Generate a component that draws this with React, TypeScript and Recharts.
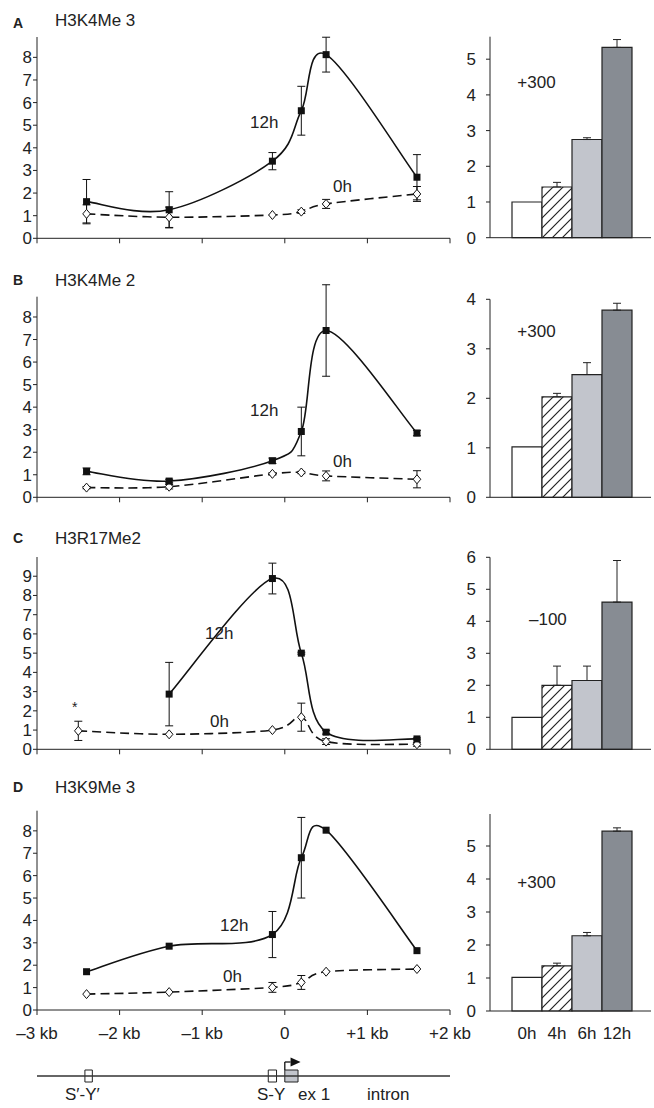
import React from 'react';
import {
  LineChart,
  Line,
  BarChart,
  Bar,
  Cell,
  XAxis,
  YAxis,
  ErrorBar,
  ComposedChart,
  ReferenceLine,
  ReferenceArea,
  ReferenceDot,
} from 'recharts';

const FONT = '"Liberation Sans", Arial, Helvetica, sans-serif';
const INK = '#222';

// ---- line panels: ChIP signal along the promoter (kb from TSS) ----
const kbTicks = [-3, -2, -1, 0, 1, 2];
const kbPos = [-2.4, -1.4, -0.15, 0.2, 0.5, 1.6];
const kbPosC = [-2.5, -1.4, -0.15, 0.2, 0.5, 1.6];

const h3k4me3_12h = [1.62, 1.26, 3.41, 5.64, 8.12, 2.7];
const h3k4me3_12hErr = [0.98, 0.8, 0.38, 1.08, 0.77, 1.0];
const h3k4me3_0h = [1.08, 0.93, 1.03, 1.18, 1.52, 1.96];
const h3k4me3_0hErr = [0.4, 0.45, 0, 0.08, 0.2, 0.33];

const h3k4me2_12h = [1.15, 0.72, 1.62, 2.92, 7.4, 2.85];
const h3k4me2_12hErr = [0.15, 0.08, 0.12, 1.08, 2.03, 0.12];
const h3k4me2_0h = [0.43, 0.47, 1.04, 1.1, 0.95, 0.8];
const h3k4me2_0hErr = [0.05, 0.1, 0.05, 0.05, 0.22, 0.38];

const h3r17me2_12h = [null, 2.87, 8.88, 5.0, 0.89, 0.54];
const h3r17me2_12hErr = [0, 1.65, 0.8, 0.05, 0.1, 0.05];
const h3r17me2_0h = [0.96, 0.78, 1.0, 1.67, 0.4, 0.26];
const h3r17me2_0hErr = [0.5, 0, 0, 0.73, 0.15, 0.1];

const h3k9me3_12h = [1.71, 2.85, 3.37, 6.8, 8.03, 2.65];
const h3k9me3_12hErr = [0, 0, 1.03, 1.8, 0, 0];
const h3k9me3_0h = [0.71, 0.8, 1.01, 1.23, 1.71, 1.83];
const h3k9me3_0hErr = [0, 0, 0.22, 0.31, 0, 0];

// ---- bar panels: time course at one site ----
const timeLabels = ['0h', '4h', '6h', '12h'];
const barA = [1.0, 1.42, 2.75, 5.33];
const barAErr = [0, 0.13, 0.05, 0.22];
const barB = [1.02, 2.03, 2.48, 3.78];
const barBErr = [0, 0.07, 0.24, 0.14];
const barC = [1.0, 2.0, 2.15, 4.6];
const barCErr = [0, 0.6, 0.45, 1.3];
const barD = [1.02, 1.37, 2.28, 5.45];
const barDErr = [0, 0.08, 0.1, 0.1];

// ---- gene map (kb) ----
const geneBackbone = [-3, 2];
const siteBoxes = [
  { x1: -2.42, x2: -2.33, kind: 'site' },
  { x1: -0.2, x2: -0.1, kind: 'site' },
  { x1: 0, x2: 0.16, kind: 'exon' },
];
const tssKb = 0;
const arrowEndKb = 0.07;

const lineRows = (pos: number[], a: (number | null)[], ae: number[], b: number[], be: number[]) =>
  pos.map((kb, i) => ({ kb, h12: a[i], e12: a[i] == null ? null : ae[i] || null, h0: b[i], e0: be[i] || null }));

const barRows = (v: number[], e: number[]) =>
  timeLabels.map((t, i) => ({ t, v: v[i], err: e[i] ? [0, e[i]] : null }));

const kbLabel = (v: number) => (v === 0 ? '0' : v < 0 ? `\u2013${-v} kb` : `+${v} kb`);

// Excel-like smoothed line (Catmull-Rom through the points)
const smooth: any = (ctx: any) => {
  let px: number[] = [];
  let py: number[] = [];
  return {
    areaStart() {},
    areaEnd() {},
    lineStart() {
      px = [];
      py = [];
    },
    point(x: number, y: number) {
      px.push(+x);
      py.push(+y);
    },
    lineEnd() {
      const n = px.length;
      if (!n) return;
      ctx.moveTo(px[0], py[0]);
      for (let i = 0; i < n - 1; i++) {
        const a = Math.max(i - 1, 0);
        const d = Math.min(i + 2, n - 1);
        ctx.bezierCurveTo(
          px[i] + (px[i + 1] - px[a]) / 6,
          py[i] + (py[i + 1] - py[a]) / 6,
          px[i + 1] - (px[d] - px[i]) / 6,
          py[i + 1] - (py[d] - py[i]) / 6,
          px[i + 1],
          py[i + 1]
        );
      }
    },
  };
};

const SquareDot = (p: any) =>
  p.cx == null || p.cy == null || p.value == null ? (
    <g key={`s${p.index}`} />
  ) : (
    <rect key={`s${p.index}`} x={p.cx - 3.5} y={p.cy - 3.5} width={7} height={7} fill="#111" />
  );

const DiamondDot = (p: any) =>
  p.cx == null || p.cy == null || p.value == null ? (
    <g key={`d${p.index}`} />
  ) : (
    <path
      key={`d${p.index}`}
      d={`M${p.cx},${p.cy - 4.5}L${p.cx + 3.8},${p.cy}L${p.cx},${p.cy + 4.5}L${p.cx - 3.8},${p.cy}Z`}
      fill="#fff"
      stroke="#111"
      strokeWidth={1}
    />
  );

const tickStyle = { fontSize: 17, fill: INK, fontFamily: FONT };

interface LinePanelProps {
  top: number;
  rows: any[];
  plotTop: number; // pixel of the axis top (yMax)
  plotBottom: number;
  yMax: number;
  domTop?: number; // domain top when error bars reach above the axis
  yTicks: number[];
  showX: boolean;
}

const LinePanel: React.FC<LinePanelProps> = ({ top, rows, plotTop, plotBottom, yMax, domTop, yTicks, showX }) => {
  const height = showX ? 272 : 250;
  const dTop = domTop ?? yMax;
  const marginTop = plotBottom - ((plotBottom - plotTop) * dTop) / yMax;
  return (
    <div style={{ position: 'absolute', left: 0, top }}>
      <LineChart width={480} height={height} data={rows} margin={{ top: marginTop, right: 30, left: 0, bottom: 0 }}>
        <XAxis
          type="number"
          dataKey="kb"
          domain={[-3, 2]}
          ticks={kbTicks}
          height={height - plotBottom}
          tickSize={5}
          tickMargin={12}
          stroke={INK}
          tick={tickStyle}
          tickFormatter={(v: number) => (showX ? kbLabel(v) : '')}
        />
        <YAxis
          type="number"
          width={37}
          domain={() => [0, dTop]}
          ticks={yTicks}
          interval={0}
          tickSize={4}
          tickMargin={1}
          axisLine={false}
          stroke={INK}
          tick={tickStyle}
        />
        <ReferenceLine segment={[{ x: -3, y: 0 }, { x: -3, y: yMax }]} stroke={INK} strokeWidth={1} />
        <Line
          dataKey="h0"
          type={smooth}
          stroke="#111"
          strokeWidth={1.6}
          strokeDasharray="9 5"
          dot={DiamondDot}
          activeDot={false}
          isAnimationActive={false}
        >
          <ErrorBar dataKey="e0" direction="y" width={4} stroke="#111" strokeWidth={1} />
        </Line>
        <Line
          dataKey="h12"
          type={smooth}
          stroke="#111"
          strokeWidth={1.6}
          dot={SquareDot}
          activeDot={false}
          isAnimationActive={false}
        >
          <ErrorBar dataKey="e12" direction="y" width={4} stroke="#111" strokeWidth={1} />
        </Line>
      </LineChart>
    </div>
  );
};

interface BarPanelProps {
  id: string;
  top: number;
  rows: any[];
  plotTop: number;
  plotBottom: number;
  yMax: number;
  yTicks: number[];
  showX: boolean;
}

const barFills = (id: string) => ['#ffffff', `url(#hatch-${id})`, '#c2c5cc', '#878c93'];

const BarPanel: React.FC<BarPanelProps> = ({ id, top, rows, plotTop, plotBottom, yMax, yTicks, showX }) => {
  const height = showX ? 272 : 250;
  const fills = barFills(id);
  return (
    <div style={{ position: 'absolute', left: 460, top }}>
      <BarChart
        width={194}
        height={height}
        data={rows}
        margin={{ top: plotTop, right: 3, left: 0, bottom: 0 }}
        barCategoryGap={0}
        barGap={0}
      >
        <defs>
          <pattern id={`hatch-${id}`} patternUnits="userSpaceOnUse" width={10} height={10}>
            <rect width={10} height={10} fill="#fff" />
            <path d="M-1,1 l2,-2 M0,10 l10,-10 M9,11 l2,-2" stroke={INK} strokeWidth={1.2} />
          </pattern>
        </defs>
        <XAxis
          dataKey="t"
          padding={{ left: 22, right: 19 }}
          height={height - plotBottom}
          tickLine={false}
          tickSize={0}
          tickMargin={16}
          stroke={INK}
          tick={tickStyle}
          interval={0}
          tickFormatter={(v: string) => (showX ? v : '')}
        />
        <YAxis
          type="number"
          width={30}
          domain={() => [0, yMax]}
          ticks={yTicks}
          interval={0}
          tickSize={4}
          tickMargin={10}
          stroke={INK}
          tick={tickStyle}
        />
        <Bar dataKey="v" stroke={INK} strokeWidth={1.2} isAnimationActive={false}>
          {rows.map((_, i) => (
            <Cell key={i} fill={fills[i]} />
          ))}
          <ErrorBar dataKey="err" direction="y" width={4} stroke={INK} strokeWidth={1} />
        </Bar>
      </BarChart>
    </div>
  );
};

const Txt: React.FC<{ x: number; capTop: number; size?: number; bold?: boolean; children: React.ReactNode }> = ({
  x,
  capTop,
  size = 17,
  bold,
  children,
}) => (
  <div
    style={{
      position: 'absolute',
      left: x,
      top: capTop - 0.13 * size,
      fontSize: size,
      lineHeight: 1,
      fontWeight: bold ? 700 : 400,
      color: INK,
      whiteSpace: 'nowrap',
      fontFamily: FONT,
    }}
  >
    {children}
  </div>
);

const Arrowhead = (p: any) => (
  <path d={`M${p.cx},${p.cy - 4.5}L${p.cx + 10},${p.cy}L${p.cx},${p.cy + 4.5}Z`} fill="#111" />
);

const GeneMap: React.FC = () => (
  <div style={{ position: 'absolute', left: 0, top: 1040 }}>
    <ComposedChart
      width={480}
      height={70}
      data={geneBackbone.map((x) => ({ x, y: 0 }))}
      margin={{ top: 16, right: 30, left: 37, bottom: 14 }}
    >
      <XAxis type="number" dataKey="x" domain={[-3, 2]} hide />
      <YAxis type="number" domain={[-1, 1]} hide />
      <Line dataKey="y" stroke="#333" strokeWidth={1.3} dot={false} activeDot={false} isAnimationActive={false} />
      <ReferenceLine segment={[{ x: tssKb, y: 0.3 }, { x: tssKb, y: 0.7 }]} stroke="#111" strokeWidth={1.3} />
      <ReferenceLine segment={[{ x: tssKb, y: 0.7 }, { x: arrowEndKb, y: 0.7 }]} stroke="#111" strokeWidth={1.3} />
      <ReferenceDot x={arrowEndKb} y={0.7} shape={Arrowhead} />
      {siteBoxes.map((b, i) => (
        <ReferenceArea
          key={i}
          x1={b.x1}
          x2={b.x2}
          y1={-0.3}
          y2={0.3}
          fill={b.kind === 'exon' ? '#c2c5cc' : '#fff'}
          fillOpacity={1}
          stroke={INK}
          strokeWidth={1}
        />
      ))}
    </ComposedChart>
  </div>
);

const ticks9 = [0, 1, 2, 3, 4, 5, 6, 7, 8];
const ticks10 = [0, 1, 2, 3, 4, 5, 6, 7, 8, 9];

export default function App() {
  return (
    <div
      style={{
        position: 'absolute',
        left: 0,
        top: 0,
        width: 654,
        height: 1108,
        background: '#fff',
        fontFamily: FONT,
        overflow: 'hidden',
      }}
    >
      <LinePanel top={0} rows={lineRows(kbPos, h3k4me3_12h, h3k4me3_12hErr, h3k4me3_0h, h3k4me3_0hErr)}
        plotTop={37} plotBottom={238.3} yMax={8.9} yTicks={ticks9} showX={false} />
      <BarPanel id="a" top={0} rows={barRows(barA, barAErr)} plotTop={36.7} plotBottom={237.7} yMax={5.63}
        yTicks={[0, 1, 2, 3, 4, 5]} showX={false} />

      <LinePanel top={260} rows={lineRows(kbPos, h3k4me2_12h, h3k4me2_12hErr, h3k4me2_0h, h3k4me2_0hErr)}
        plotTop={36.7} plotBottom={237.3} yMax={8.9} domTop={9.5} yTicks={ticks9} showX={false} />
      <BarPanel id="b" top={260} rows={barRows(barB, barBErr)} plotTop={39.3} plotBottom={237.3} yMax={4}
        yTicks={[0, 1, 2, 3, 4]} showX={false} />

      <LinePanel top={520} rows={lineRows(kbPosC, h3r17me2_12h, h3r17me2_12hErr, h3r17me2_0h, h3r17me2_0hErr)}
        plotTop={37} plotBottom={229.3} yMax={10} yTicks={ticks10} showX={false} />
      <BarPanel id="c" top={520} rows={barRows(barC, barCErr)} plotTop={37.3} plotBottom={229.3} yMax={6}
        yTicks={[0, 1, 2, 3, 4, 5, 6]} showX={false} />

      <LinePanel top={780} rows={lineRows(kbPos, h3k9me3_12h, h3k9me3_12hErr, h3k9me3_0h, h3k9me3_0hErr)}
        plotTop={30.7} plotBottom={230} yMax={8.9} yTicks={ticks9} showX={true} />
      <BarPanel id="d" top={780} rows={barRows(barD, barDErr)} plotTop={34} plotBottom={231} yMax={5.97}
        yTicks={[0, 1, 2, 3, 4, 5]} showX={true} />

      <GeneMap />

      {/* panel letters and titles */}
      <Txt x={13} capTop={17.5} size={14} bold>A</Txt>
      <Txt x={55} capTop={14}>H3K4Me 3</Txt>
      <Txt x={13} capTop={274.5} size={14} bold>B</Txt>
      <Txt x={55} capTop={274}>H3K4Me 2</Txt>
      <Txt x={13} capTop={533} size={14} bold>C</Txt>
      <Txt x={55} capTop={532.7}>H3R17Me2</Txt>
      <Txt x={13} capTop={782} size={14} bold>D</Txt>
      <Txt x={55} capTop={781}>H3K9Me 3</Txt>

      {/* series labels */}
      <Txt x={250} capTop={116.7}>12h</Txt>
      <Txt x={333} capTop={180}>0h</Txt>
      <Txt x={250} capTop={404}>12h</Txt>
      <Txt x={333} capTop={455}>0h</Txt>
      <Txt x={205} capTop={627.3}>12h</Txt>
      <Txt x={210} capTop={715}>0h</Txt>
      <Txt x={72} capTop={702} size={14}>*</Txt>
      <Txt x={220} capTop={919}>12h</Txt>
      <Txt x={223} capTop={970.7}>0h</Txt>

      {/* bar panel positions */}
      <Txt x={517.3} capTop={76.7}>+300</Txt>
      <Txt x={517.3} capTop={325}>+300</Txt>
      <Txt x={529} capTop={613.3}>{'\u2013100'}</Txt>
      <Txt x={517.3} capTop={876.7}>+300</Txt>

      {/* gene map labels */}
      <Txt x={65} capTop={1088.3}>{'S\u2032-Y\u2032'}</Txt>
      <Txt x={257} capTop={1088.3}>S-Y</Txt>
      <Txt x={298} capTop={1088.3}>ex 1</Txt>
      <Txt x={367} capTop={1088.3}>intron</Txt>
    </div>
  );
}
